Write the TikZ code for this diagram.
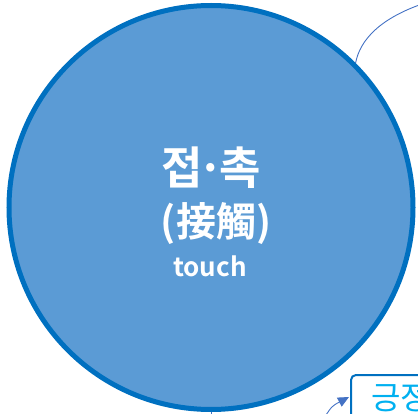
\documentclass[tikz,border=0pt]{standalone}
\usepackage{fontspec}
\newfontfamily\kr{Noto Sans CJK KR}
\newfontfamily\krb{Noto Sans CJK KR Bold}
\usetikzlibrary{arrows.meta,calc}
\definecolor{cfill}{HTML}{5B9BD5}
\definecolor{cline}{HTML}{0070C0}
\definecolor{conn}{HTML}{4472C4}
\definecolor{cyantext}{HTML}{00B0F0}
\begin{document}
\begin{tikzpicture}[x=1pt,y=-1pt,
  bigcircle/.style={circle,fill=cfill,draw=cline,line width=5pt,minimum size=404pt,inner sep=0pt},
  ctext/.style={text=white,anchor=base,inner sep=0pt},
  linkline/.style={draw=conn,line width=0.9pt},
  boxstyle/.style={draw=cline,line width=2pt,rounded corners=5pt,fill=white,minimum width=110pt,minimum height=80pt,anchor=north west,inner sep=0pt}
]
\useasboundingbox (0,0) rectangle (418,414);
\node[bigcircle] (c) at (211,207.5) {};
\node[ctext,font=\krb\fontsize{45}{45}\selectfont] (t1) at (211,185) {접\kern-0.12em·\kern-0.1em촉};
\node[ctext,font=\krb\fontsize{40}{40}\selectfont] (t2) at (216,237) {(接觸)};
\node[ctext,font=\krb\fontsize{26}{26}\selectfont] (t3) at (210,277) {touch};
\coordinate (topend) at (425,3);
\draw[linkline] (c.45) .. controls (360,40) and (380,18) .. (topend);
\coordinate (botend) at (211,420);
\draw[linkline] (c.south) -- (botend);
\node[boxstyle] (b) at (350,374) {};
\node[anchor=base west,inner sep=0pt,text=cyantext,font=\kr\fontsize{32}{32}\selectfont] (bt) at (371,409) {긍정};
\coordinate (arrstart) at (324,418);
\draw[linkline,-{Triangle[length=11pt,width=10pt]}] (arrstart) .. controls (332,406) .. ($(b.north west)+(-1,23)$);
\end{tikzpicture}
\end{document}
